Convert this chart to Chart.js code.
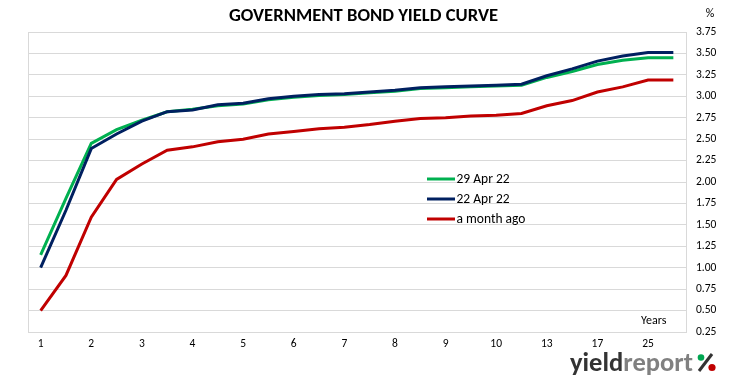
<!DOCTYPE html>
<html>
<head>
<meta charset="utf-8">
<script src="https://cdn.jsdelivr.net/npm/chart.js@4/dist/chart.umd.min.js"></script>
<style>
html,body{margin:0;padding:0;background:#fff;}
#wrap{width:731px;height:381px;position:relative;}
</style>
</head>
<body>
<div id="wrap"><canvas id="c" width="731" height="381"></canvas></div>
<script>
// ---- data ----
const maturities = ['1','1.5','2','2.5','3','3.5','4','4.5','5','5.5','6','6.5','7','7.5','8','8.5','9','9.5','10','11','13','15','17','20','25','30'];
const shownTicks = ['1','2','3','4','5','6','7','8','9','10','13','17','25'];
const yield29Apr = [1.15,1.81,2.45,2.61,2.72,2.82,2.85,2.89,2.91,2.96,2.99,3.01,3.02,3.04,3.06,3.09,3.10,3.11,3.12,3.13,3.22,3.29,3.37,3.42,3.45,3.45];
const yield22Apr = [1.00,1.67,2.39,2.56,2.71,2.82,2.84,2.90,2.92,2.97,3.00,3.02,3.03,3.05,3.07,3.10,3.11,3.12,3.13,3.14,3.24,3.32,3.41,3.47,3.51,3.51];
const yieldMonthAgo = [0.50,0.91,1.59,2.03,2.21,2.37,2.41,2.47,2.50,2.56,2.59,2.62,2.64,2.67,2.71,2.74,2.75,2.77,2.78,2.80,2.89,2.95,3.05,3.11,3.19,3.19];
const seriesNames = ['29 Apr 22','22 Apr 22','a month ago'];
const yTicks = {min:0.25, max:3.75, step:0.25};

const FONT = 'Carlito, Lato, "Open Sans", sans-serif';
const GRID = '#d9d9d9';

const extras = {
  id:'extras',
  afterDraw(chart){
    const ctx = chart.ctx, a = chart.chartArea;
    ctx.save();
    // left border
    ctx.strokeStyle = GRID; ctx.lineWidth = 1;
    ctx.beginPath(); ctx.moveTo(Math.round(a.left)+0.5, a.top); ctx.lineTo(Math.round(a.left)+0.5, a.bottom); ctx.stroke();
    // title
    const title = 'GOVERNMENT BOND YIELD CURVE';
    let fs = 18;
    ctx.font = 'bold ' + fs + 'px ' + FONT;
    fs = fs * 269 / ctx.measureText(title).width;
    ctx.font = 'bold ' + fs.toFixed(2) + 'px ' + FONT;
    ctx.fillStyle = '#000'; ctx.textAlign = 'center'; ctx.textBaseline = 'alphabetic';
    ctx.fillText(title, 363.5, 20.5);
    // % unit
    ctx.font = '12px ' + FONT;
    ctx.fillStyle = '#000';
    ctx.fillText('%', 710, 17);
    // Years
    ctx.textAlign = 'left';
    ctx.fillText('Years', 641, 323.5);
    // legend
    chart.data.datasets.forEach((ds, i) => {
      const y = 179 + i * 20;
      ctx.strokeStyle = ds.borderColor; ctx.lineWidth = 3;
      ctx.beginPath(); ctx.moveTo(427, y); ctx.lineTo(455, y); ctx.stroke();
      ctx.fillStyle = '#000'; ctx.font = '13.5px ' + FONT;
      ctx.textBaseline = 'middle';
      ctx.fillText(ds.label, 456.5, y + 0.5);
    });
    // logo
    ctx.textBaseline = 'alphabetic';
    let lf = 24;
    ctx.font = '900 ' + lf + 'px ' + FONT;
    const w1 = ctx.measureText('yield').width, w2 = ctx.measureText('report').width;
    lf = lf * 123 / (w1 + w2);
    ctx.font = '900 ' + lf.toFixed(2) + 'px ' + FONT;
    const wy = ctx.measureText('yield').width;
    ctx.fillStyle = '#333333';
    ctx.fillText('yield', 570, 371);
    ctx.fillStyle = '#808080';
    ctx.fillText('report', 570 + wy, 371);
    // % glyph of logo
    ctx.strokeStyle = '#333333'; ctx.lineWidth = 3;
    ctx.beginPath(); ctx.moveTo(699, 371); ctx.lineTo(712, 354); ctx.stroke();
    ctx.fillStyle = '#00a651';
    ctx.beginPath(); ctx.arc(701, 357.5, 3.3, 0, Math.PI*2); ctx.fill();
    ctx.fillStyle = '#c00000';
    ctx.beginPath(); ctx.arc(712, 367.5, 3.6, 0, Math.PI*2); ctx.fill();
    ctx.restore();
  }
};

new Chart(document.getElementById('c'), {
  type:'line',
  data:{
    labels: maturities,
    datasets:[
      {label:seriesNames[0], data:yield29Apr, borderColor:'#00b050', backgroundColor:'#00b050', borderWidth:3, pointRadius:0, tension:0, order:2},
      {label:seriesNames[1], data:yield22Apr, borderColor:'#002060', backgroundColor:'#002060', borderWidth:3, pointRadius:0, tension:0, order:1},
      {label:seriesNames[2], data:yieldMonthAgo, borderColor:'#c00000', backgroundColor:'#c00000', borderWidth:3, pointRadius:0, tension:0, order:0}
    ]
  },
  options:{
    responsive:false,
    animation:false,
    devicePixelRatio:1,
    layout:{padding:{left:28, top:32, right:0, bottom:0}},
    plugins:{legend:{display:false}, title:{display:false}, tooltip:{enabled:false}},
    scales:{
      x:{
        offset:true,
        grid:{display:false, drawTicks:false},
        border:{display:true, color:GRID},
        ticks:{
          autoSkip:false, maxRotation:0, padding:5, color:'#000',
          font:{family:FONT, size:11.5},
          callback:function(v, i){ const l = maturities[i]; return shownTicks.includes(l) && i % 2 === 0 ? l : ''; }
        },
        afterFit(s){ s.height = 49; }
      },
      y:{
        position:'right',
        min:yTicks.min, max:yTicks.max,
        grid:{color:GRID, drawTicks:false},
        border:{display:true, color:GRID},
        ticks:{
          stepSize:yTicks.step, padding:10, color:'#000',
          font:{family:FONT, size:11.5},
          callback:v => Number(v).toFixed(2)
        },
        afterFit(s){ s.width = 45; }
      }
    }
  },
  plugins:[extras]
});
</script>
</body>
</html>
